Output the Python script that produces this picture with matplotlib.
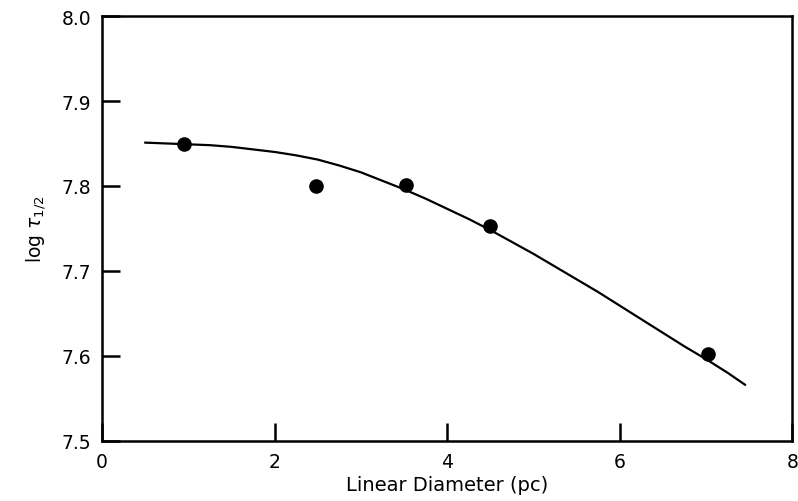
import matplotlib
matplotlib.use("Agg")
import matplotlib.pyplot as plt

# measured half-life vs. linear diameter
diam = [0.95, 2.48, 3.52, 4.5, 7.02]
log_tau = [7.849, 7.80, 7.801, 7.753, 7.602]

# smooth model curve
curve_x = [0.5, 0.75, 1.0, 1.25, 1.5, 1.75, 2.0, 2.25, 2.5, 2.75, 3.0, 3.25, 3.5,
           3.75, 4.0, 4.25, 4.5, 4.75, 5.0, 5.25, 5.5, 5.75, 6.0, 6.25, 6.5,
           6.75, 7.0, 7.25, 7.45]
curve_y = [7.851, 7.850, 7.849, 7.848, 7.846, 7.843, 7.840, 7.836, 7.831, 7.824,
           7.816, 7.806, 7.796, 7.785, 7.773, 7.761, 7.748, 7.734, 7.720, 7.705,
           7.690, 7.675, 7.659, 7.643, 7.627, 7.611, 7.596, 7.580, 7.566]

xticks = [0, 2, 4, 6, 8]
yticks = [7.5, 7.6, 7.7, 7.8, 7.9, 8.0]

plt.rcParams['font.family'] = ['DejaVu Sans']
fig = plt.figure(figsize=(7.98, 5.02), dpi=100)
ax = fig.add_axes([0.128, 0.12, 0.865, 0.846])

ax.plot(curve_x, curve_y, color='black', lw=1.6, solid_joinstyle='round')
ax.plot(diam, log_tau, 'o', color='black', ms=9.5)

ax.set_xlim(0, 8)
ax.set_ylim(7.5, 8.0)
ax.set_xticks(xticks)
ax.set_yticks(yticks)
ax.set_xticklabels([str(t) for t in xticks])
ax.set_yticklabels([f'{t:.1f}' for t in yticks])
ax.tick_params(direction='in', length=13, width=1.8, labelsize=13.5, pad=8)

for s in ax.spines.values():
    s.set_linewidth(1.8)

ax.set_xlabel('Linear Diameter (pc)', fontsize=14, labelpad=3)
ax.set_ylabel(r'log $\tau_{1/2}$', fontsize=13.5, labelpad=10)

fig.savefig('out.png', dpi=100)
